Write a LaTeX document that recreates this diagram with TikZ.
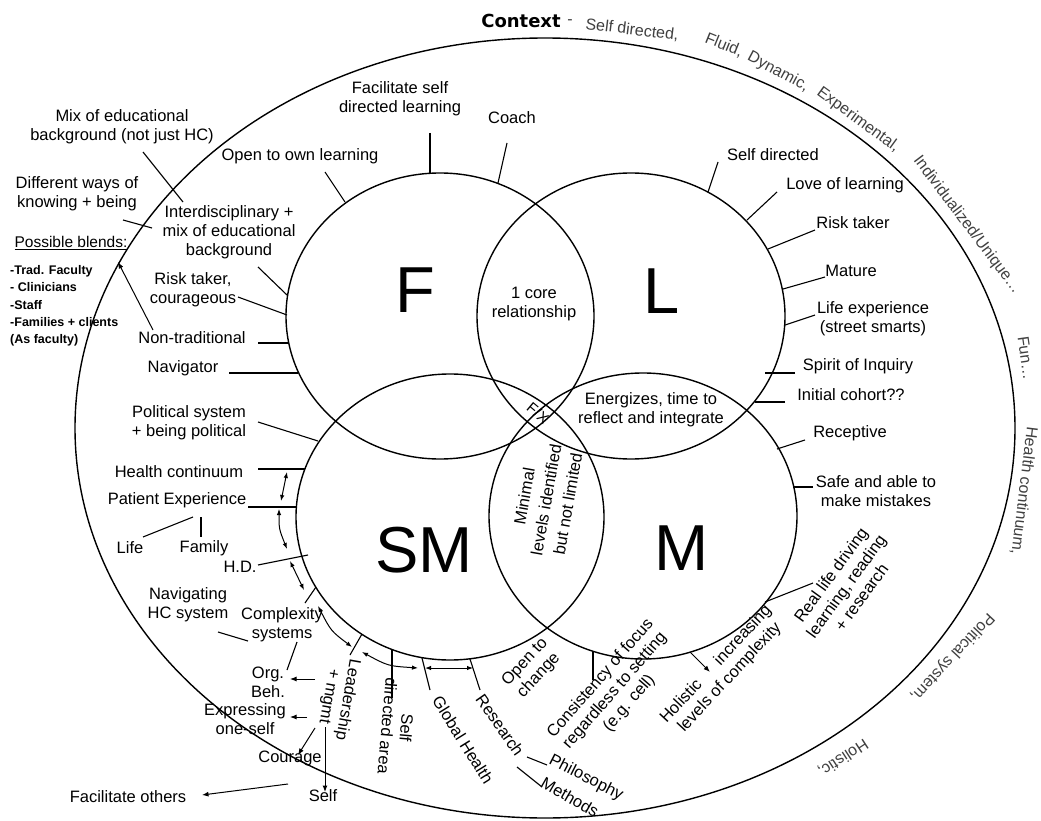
\documentclass[tikz,border=0pt]{standalone}
\usepackage{fontspec}
\setmainfont{Liberation Sans}
\newfontfamily\dejavu{DejaVu Sans}
\usetikzlibrary{shapes.geometric, arrows.meta}
\newcommand\labfont{\fontsize{16.5}{19}\selectfont}
\newcommand\smfont{\fontsize{12.5}{17.3}\selectfont\bfseries}
\newcommand\ctxfont{\fontsize{16}{19}\selectfont}
\newcommand\bigfnt{\fontsize{65}{70}\selectfont}
\newcommand\fxfont{\fontsize{15}{16}\selectfont}
\begin{document}
\begin{tikzpicture}[x=1pt,y=-1pt,
  lbl/.style={font=\labfont, align=center, inner sep=0pt, outer sep=0pt},
  ctx/.style={font=\ctxfont, text=black!75, inner sep=0pt},
  big/.style={font=\bigfnt, inner sep=0pt},
  tick/.style={line width=1.1pt},
  circ/.style={draw, ellipse, line width=1.4pt, minimum width=308pt, minimum height=286pt, inner sep=0pt},
  darr/.style={line width=1pt, {Latex[length=6pt,width=4.5pt]}-{Latex[length=6pt,width=4.5pt]}},
  sarr/.style={line width=1pt, -{Latex[length=6.5pt,width=5pt]}}]
\fill[white] (0,0) rectangle (1041,821);
\useasboundingbox (0,0) rectangle (1041,821);

% outer context ellipse
\node[draw, ellipse, line width=1.4pt, minimum width=940pt, minimum height=780pt, inner sep=0pt] (ctxell) at (545,428) {};
% four circles
\node[circ] (Fc) at (440,316) {};
\node[circ] (Lc) at (631,316) {};
\node[circ] (SMc) at (450,517) {};
\node[circ] (Mc) at (643,516) {};

% big letters
\node[big] (Flab) at (415,290) {F};
\node[big] (Llab) at (662,291) {L};
\node[big] (SMlab) at (424,550) {SM};
\node[big] (Mlab) at (682,548) {M};

% context texts
\node[font=\dejavu\bfseries\fontsize{18}{20}\selectfont, inner sep=0pt] (context) at (521,21) {Context};
\node[ctx] (dash) at (570,22) {-};
\node[ctx, rotate=-7] (c1) at (632,30) {Self directed,};
\node[ctx, rotate=-22] (c2) at (724,45) {Fluid,};
\node[ctx, rotate=-28] (c3) at (778,72) {Dynamic,};
\node[ctx, rotate=-36] (c4) at (858,120) {Experimental,};
\node[ctx, rotate=-53] (c5) at (967,225) {Individualized/Unique…};
\node[ctx, rotate=-82] (c6) at (1026,358) {Fun…};
\node[ctx, rotate=-97] (c7) at (1024,491) {Health continuum,};
\node[ctx, rotate=-133] (c8) at (952,657) {Political system,};
\node[ctx, rotate=-147] (c9) at (843,758) {Holistic,};

% left / F labels
\node[lbl] (mix) at (122,127) {Mix of educational\\background (not just HC)};
\node[lbl] (diff) at (77,194) {Different ways of\\knowing + being};
\node[lbl, font=\fontsize{15.5}{18}\selectfont] (blends) at (71,243) {\underline{Possible blends:}};
\node[font=\smfont, align=left, anchor=west, inner sep=0pt] (blist) at (10,306) {-Trad. Faculty\\- Clinicians\\-Staff\\-Families + clients\\(As faculty)};
\node[lbl] (open) at (300,156) {Open to own learning};
\node[lbl] (facil) at (400,99) {Facilitate self\\directed learning};
\node[lbl] (coach) at (512,118) {Coach};
\node[lbl] (inter) at (229,232) {Interdisciplinary +\\mix of educational\\background};
\node[lbl] (riskf) at (193,290) {Risk taker,\\courageous};
\node[lbl] (nontrad) at (192,338) {Non-traditional};
\node[lbl] (nav) at (183,368) {Navigator};
\node[lbl] (polit) at (189,423) {Political system\\+ being political};
\node[lbl] (hc) at (179,472) {Health continuum};
\node[lbl] (pe) at (177,500) {Patient Experience};
\node[lbl] (life) at (130,548) {Life};
\node[lbl] (family) at (204,548) {Family};
\node[lbl] (hd) at (240,567) {H.D.};
\node[lbl] (navhc) at (188,605) {Navigating\\HC system};
\node[lbl] (cplx) at (282,625) {Complexity\\systems};
\node[lbl] (org) at (268,682) {Org.\\Beh.};
\node[lbl] (expr) at (245,719) {Expressing\\one-self};
\node[lbl] (cour) at (290,758) {Courage};
\node[lbl] (self) at (323,796) {Self};
\node[lbl] (facoth) at (128,797) {Facilitate others};
\node[lbl, rotate=-100] (lead) at (338,698) {Leadership\\+ mgmt};
\node[lbl, rotate=-95] (sda) at (397,727) {Self\\directed area};
\node[lbl, rotate=-58] (glob) at (463,740) {Global Health};
\node[lbl, rotate=-55] (res) at (500,725) {Research};
\node[lbl, rotate=-27] (phil) at (586,778) {Philosophy};
\node[lbl, rotate=-30] (meth) at (570,797) {Methods};
\node[lbl, rotate=47] (otc) at (532,669) {Open to\\change};
\node[lbl, rotate=49] (cons) at (615,691) {Consistency of focus\\regardless to setting\\(e.g. cell)};
\node[lbl, rotate=47] (hol) at (723,671) {Holistic\hspace{26pt}increasing\\levels of complexity};
\node[lbl, rotate=54] (reallife) at (846,586) {Real life driving\\learning, reading\\+ research};

% right / L, M labels
\node[lbl] (sdl) at (773,155) {Self directed};
\node[lbl] (love) at (845,185) {Love of learning};
\node[lbl] (riskl) at (853,223) {Risk taker};
\node[lbl] (mat) at (851,271) {Mature};
\node[lbl] (lifeexp) at (873,319) {Life experience\\(street smarts)};
\node[lbl] (spirit) at (858,366) {Spirit of Inquiry};
\node[lbl] (init) at (851,395) {Initial cohort??};
\node[lbl] (recep) at (850,433) {Receptive};
\node[lbl] (safe) at (876,491) {Safe and able to\\make mistakes};

% centre labels
\node[lbl] (core) at (534,304) {1 core\\relationship};
\node[lbl, font=\fxfont, rotate=-40] (fx) at (538,413) {F/X};
\node[lbl] (ener) at (651,410) {Energizes, time to\\reflect and integrate};
\node[lbl, font=\fontsize{16.5}{22}\selectfont, rotate=80] (minl) at (546,500) {Minimal\\levels identified\\but not limited};

% connector end points
\coordinate (mixA) at (143,152);  \coordinate (mixB) at (183,202);
\coordinate (diffA) at (123,220); \coordinate (diffB) at (152,228);
\coordinate (ntA) at (153,330);   \coordinate (ntB) at (118,262);
\coordinate (openA) at (325,172); \coordinate (openB) at (345,202);
\coordinate (facA) at (430,133);  \coordinate (facB) at (430,173);
\coordinate (coA) at (507,143);   \coordinate (coB) at (498,183);
\coordinate (inA) at (258,267);   \coordinate (inB) at (287,295);
\coordinate (rfA) at (238,297);   \coordinate (rfB) at (287,315);
\coordinate (ntlA) at (258,343);  \coordinate (ntlB) at (289,343);
\coordinate (navA) at (229,373);  \coordinate (navB) at (298,373);
\coordinate (poA) at (258,422);   \coordinate (poB) at (318,441);
\coordinate (hcA) at (258,469);   \coordinate (hcB) at (305,469);
\coordinate (peA) at (248,507);   \coordinate (peB) at (297,507);
\coordinate (pe1) at (193,517);   \coordinate (lifeT) at (143,537);
\coordinate (pe2) at (201,517);   \coordinate (famT) at (201,537);
\coordinate (hdA) at (258,565);   \coordinate (hdB) at (308,555);
\coordinate (cxA) at (305,603);   \coordinate (cxB) at (316,587);
\coordinate (ldA) at (350,655);   \coordinate (ldB) at (362,634);
\coordinate (sdA) at (392,649);   \coordinate (sdB) at (392,698);
\coordinate (glA) at (422,658);   \coordinate (glB) at (430,690);
\coordinate (reA) at (470,659);   \coordinate (reB) at (480,690);
\coordinate (coFa) at (593,651);  \coordinate (coFb) at (593,680);
\coordinate (hoA) at (690,652);   \coordinate (hoB) at (710,672);
\coordinate (rlA) at (765,602);   \coordinate (rlB) at (813,583);
\coordinate (sysA) at (218,632);  \coordinate (sysB) at (248,641);
\coordinate (sysC) at (297,642);  \coordinate (sysD) at (287,670);
\coordinate (rpA) at (527,757);   \coordinate (rpB) at (547,765);
\coordinate (rmA) at (517,767);   \coordinate (rmB) at (542,787);
% chain arrows
\coordinate (a1) at (287,472); \coordinate (a2) at (281,501);
\coordinate (a3) at (279,509); \coordinate (a4) at (287,549);
\coordinate (a5) at (290,561); \coordinate (a6) at (304,590);
\coordinate (a7) at (318,606); \coordinate (a8) at (352,647);
\coordinate (a9) at (362,652); \coordinate (a10) at (418,668);
\coordinate (a11) at (425,668); \coordinate (a12) at (473,668);
% leadership arrows
\coordinate (lo1) at (315,679); \coordinate (lo2) at (290,679);
\coordinate (le1) at (307,717); \coordinate (le2) at (290,717);
\coordinate (lc1) at (315,728); \coordinate (lc2) at (298,755);
\coordinate (ls1) at (325,727); \coordinate (ls2) at (325,792);
\coordinate (fo1) at (288,784); \coordinate (fo2) at (202,795);
% L side
\coordinate (sdlA) at (718,162); \coordinate (sdlB) at (708,192);
\coordinate (loA) at (777,192);  \coordinate (loB) at (747,220);
\coordinate (rlkA) at (815,230); \coordinate (rlkB) at (768,249);
\coordinate (maA) at (825,277);  \coordinate (maB) at (783,289);
\coordinate (leA) at (815,315);  \coordinate (leB) at (785,325);
\coordinate (spA) at (795,373);  \coordinate (spB) at (765,373);
\coordinate (icA) at (785,402);  \coordinate (icB) at (755,402);
\coordinate (rcA) at (805,440);  \coordinate (rcB) at (777,449);
\coordinate (saA) at (813,487);  \coordinate (saB) at (793,487);

\draw[tick] (mixA) -- (mixB);
\draw[tick] (diffA) -- (diffB);
\draw[sarr] (ntA) -- (ntB);
\draw[tick] (openA) -- (openB);
\draw[tick] (facA) -- (facB);
\draw[tick] (coA) -- (coB);
\draw[tick] (inA) -- (inB);
\draw[tick] (rfA) -- (rfB);
\draw[tick] (ntlA) -- (ntlB);
\draw[tick] (navA) -- (navB);
\draw[tick] (poA) -- (poB);
\draw[tick] (hcA) -- (hcB);
\draw[tick] (peA) -- (peB);
\draw[tick] (pe1) -- (lifeT);
\draw[tick] (pe2) -- (famT);
\draw[tick] (hdA) -- (hdB);
\draw[tick] (cxA) -- (cxB);
\draw[tick] (ldA) -- (ldB);
\draw[tick] (sdA) -- (sdB);
\draw[tick] (glA) -- (glB);
\draw[tick] (reA) -- (reB);
\draw[tick] (coFa) -- (coFb);
\draw[sarr] (hoA) -- (hoB);
\draw[tick] (rlA) -- (rlB);
\draw[tick] (sysA) -- (sysB);
\draw[tick] (sysC) -- (sysD);
\draw[tick] (rpA) -- (rpB);
\draw[tick] (rmA) -- (rmB);

\draw[darr] (a1) -- (a2);
\draw[darr] (a3) .. controls (279,529) .. (a4);
\draw[darr] (a5) -- (a6);
\draw[darr] (a7) .. controls (331,631) .. (a8);
\draw[darr] (a9) .. controls (388,666) .. (a10);
\draw[darr] (a11) -- (a12);

\draw[sarr] (lo1) -- (lo2);
\draw[sarr] (le1) -- (le2);
\draw[sarr] (lc1) -- (lc2);
\draw[sarr] (ls1) -- (ls2);
\draw[sarr] (fo1) -- (fo2);

\draw[tick] (sdlA) -- (sdlB);
\draw[tick] (loA) -- (loB);
\draw[tick] (rlkA) -- (rlkB);
\draw[tick] (maA) -- (maB);
\draw[tick] (leA) -- (leB);
\draw[tick] (spA) -- (spB);
\draw[tick] (icA) -- (icB);
\draw[tick] (rcA) -- (rcB);
\draw[tick] (saA) -- (saB);
\end{tikzpicture}
\end{document}
